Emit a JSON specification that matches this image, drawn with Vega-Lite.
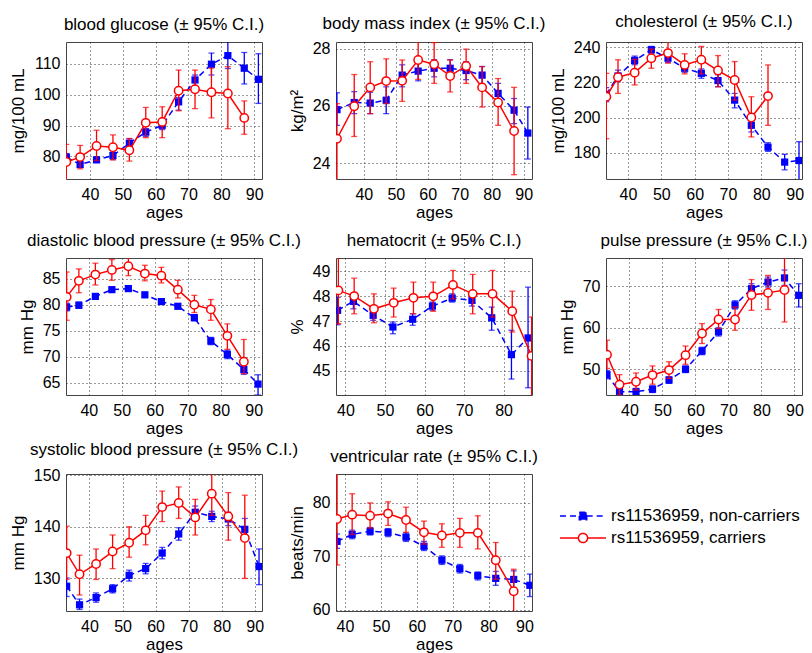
{
"$schema":"https://vega.github.io/schema/vega-lite/v6.json",
"background":"white",
"padding":{"left":8,"top":12,"right":4,"bottom":4},
"config":{
 "font":"Liberation Sans",
 "view":{"stroke":"#444","strokeWidth":1},
 "title":{"fontSize":17,"fontWeight":"normal","font":"Liberation Sans","offset":8,"color":"#000"},
 "axis":{"labelFont":"Liberation Sans","labelFontSize":16,"labelColor":"#000","titleFont":"Liberation Sans","titleFontSize":17,"titleFontWeight":"normal","titleColor":"#000","ticks":false,"tickSize":0,"domain":false,"grid":true,"gridColor":"#333","gridDash":[1,3],"gridWidth":1,"labelFlush":false,"labelOverlap":false,"labelBound":false},
 "axisX":{"labelPadding":7,"titlePadding":2},
 "axisY":{"labelPadding":6,"titlePadding":6},
 "legend":{"labelFont":"Liberation Sans","labelFontSize":17,"labelColor":"#000","padding":0,"labelLimit":0}
},
"datasets":{"d":[
{"p":"glu","g":"n","a":32.8,"m":79.8,"lo":78.7,"hi":80.9},{"p":"glu","g":"n","a":37,"m":77.4,"lo":76.5,"hi":78.2},{"p":"glu","g":"n","a":42,"m":78.9,"lo":78.2,"hi":79.8},{"p":"glu","g":"n","a":47,"m":80.3,"lo":79,"hi":81.4},{"p":"glu","g":"n","a":52,"m":84.3,"lo":83,"hi":85.8},{"p":"glu","g":"n","a":57,"m":87.9,"lo":86.5,"hi":89},{"p":"glu","g":"n","a":62,"m":90.1,"lo":88.7,"hi":91.2},{"p":"glu","g":"n","a":67,"m":97.7,"lo":95,"hi":99.1},{"p":"glu","g":"n","a":72,"m":104.8,"lo":102.8,"hi":106.4},{"p":"glu","g":"n","a":77,"m":109.9,"lo":106.4,"hi":113.5},{"p":"glu","g":"n","a":82,"m":112.7,"lo":108.5,"hi":118},{"p":"glu","g":"n","a":87,"m":108.6,"lo":103.5,"hi":113.7},{"p":"glu","g":"n","a":91.3,"m":105,"lo":97.2,"hi":113.3},
{"p":"glu","g":"c","a":32.8,"m":78.2,"lo":72,"hi":83.9},{"p":"glu","g":"c","a":37,"m":79.8,"lo":76,"hi":83.6},{"p":"glu","g":"c","a":42,"m":83.4,"lo":78.7,"hi":88.5},{"p":"glu","g":"c","a":47,"m":83,"lo":78.9,"hi":87},{"p":"glu","g":"c","a":52,"m":82,"lo":78.5,"hi":85.8},{"p":"glu","g":"c","a":57,"m":90.9,"lo":86.1,"hi":95.9},{"p":"glu","g":"c","a":62,"m":91.2,"lo":86.1,"hi":96.1},{"p":"glu","g":"c","a":67,"m":101.3,"lo":94.8,"hi":108},{"p":"glu","g":"c","a":72,"m":101.8,"lo":95.5,"hi":108},{"p":"glu","g":"c","a":77,"m":100.8,"lo":92.5,"hi":108.6},{"p":"glu","g":"c","a":82,"m":100.4,"lo":89,"hi":109.1},{"p":"glu","g":"c","a":87,"m":92.5,"lo":87.2,"hi":98},
{"p":"bmi","g":"n","a":31.6,"m":25.87,"lo":25.32,"hi":26.46},{"p":"bmi","g":"n","a":37,"m":26.12,"lo":25.73,"hi":26.5},{"p":"bmi","g":"n","a":42,"m":26.1,"lo":25.73,"hi":26.48},{"p":"bmi","g":"n","a":47,"m":26.2,"lo":25.73,"hi":26.67},{"p":"bmi","g":"n","a":52,"m":27.08,"lo":26.67,"hi":27.44},{"p":"bmi","g":"n","a":57,"m":27.22,"lo":26.88,"hi":27.55},{"p":"bmi","g":"n","a":62,"m":27.32,"lo":27.02,"hi":27.62},{"p":"bmi","g":"n","a":67,"m":27.32,"lo":27.02,"hi":27.62},{"p":"bmi","g":"n","a":72,"m":27.24,"lo":26.92,"hi":27.55},{"p":"bmi","g":"n","a":77,"m":27.08,"lo":26.73,"hi":27.38},{"p":"bmi","g":"n","a":82,"m":26.44,"lo":26.02,"hi":26.79},{"p":"bmi","g":"n","a":87,"m":25.85,"lo":25.38,"hi":26.26},{"p":"bmi","g":"n","a":91.3,"m":25.05,"lo":24.14,"hi":25.96},
{"p":"bmi","g":"c","a":31.6,"m":24.85,"lo":23.3,"hi":26.08},{"p":"bmi","g":"c","a":37,"m":25.99,"lo":24.93,"hi":27.1},{"p":"bmi","g":"c","a":42,"m":26.65,"lo":25.73,"hi":27.55},{"p":"bmi","g":"c","a":47,"m":26.87,"lo":26.08,"hi":27.65},{"p":"bmi","g":"c","a":52,"m":26.88,"lo":26.16,"hi":27.61},{"p":"bmi","g":"c","a":57,"m":27.61,"lo":26.93,"hi":28.3},{"p":"bmi","g":"c","a":62,"m":27.46,"lo":26.79,"hi":28.22},{"p":"bmi","g":"c","a":67,"m":27.05,"lo":26.49,"hi":27.61},{"p":"bmi","g":"c","a":72,"m":27.4,"lo":26.79,"hi":27.99},{"p":"bmi","g":"c","a":77,"m":26.65,"lo":25.96,"hi":27.38},{"p":"bmi","g":"c","a":82,"m":26.12,"lo":25.32,"hi":26.96},{"p":"bmi","g":"c","a":87,"m":25.12,"lo":23.59,"hi":26.65},
{"p":"chol","g":"n","a":33.5,"m":213.1,"lo":209,"hi":217},{"p":"chol","g":"n","a":37,"m":223.6,"lo":220.4,"hi":226.9},{"p":"chol","g":"n","a":42,"m":232.4,"lo":230,"hi":234.9},{"p":"chol","g":"n","a":47,"m":238.5,"lo":236.2,"hi":240.4},{"p":"chol","g":"n","a":52,"m":233.7,"lo":231.3,"hi":235.6},{"p":"chol","g":"n","a":57,"m":228,"lo":225.7,"hi":229.9},{"p":"chol","g":"n","a":62,"m":225.1,"lo":222.3,"hi":227.6},{"p":"chol","g":"n","a":67,"m":221,"lo":217.5,"hi":224.3},{"p":"chol","g":"n","a":72,"m":209.9,"lo":205.5,"hi":213.7},{"p":"chol","g":"n","a":77,"m":195.6,"lo":191.8,"hi":199.4},{"p":"chol","g":"n","a":82,"m":183.2,"lo":180.8,"hi":185.7},{"p":"chol","g":"n","a":87,"m":174.7,"lo":170.3,"hi":179.1},{"p":"chol","g":"n","a":91.3,"m":175.6,"lo":164,"hi":186.3},
{"p":"chol","g":"c","a":33.5,"m":211.8,"lo":188,"hi":225.1},{"p":"chol","g":"c","a":37,"m":222.9,"lo":213.7,"hi":232.8},{"p":"chol","g":"c","a":42,"m":225.5,"lo":218.5,"hi":233.1},{"p":"chol","g":"c","a":47,"m":233.7,"lo":228,"hi":238.9},{"p":"chol","g":"c","a":52,"m":236.6,"lo":230.9,"hi":243.5},{"p":"chol","g":"c","a":57,"m":229.9,"lo":224.8,"hi":236.2},{"p":"chol","g":"c","a":62,"m":232.8,"lo":224.8,"hi":240.4},{"p":"chol","g":"c","a":67,"m":226.7,"lo":217.5,"hi":235.2},{"p":"chol","g":"c","a":72,"m":221.3,"lo":209.9,"hi":231.8},{"p":"chol","g":"c","a":77,"m":200,"lo":189,"hi":211.8},{"p":"chol","g":"c","a":82,"m":212.2,"lo":195.6,"hi":229.9},
{"p":"dia","g":"n","a":33.3,"m":79.55,"lo":78.8,"hi":80.3},{"p":"dia","g":"n","a":37,"m":79.9,"lo":79.3,"hi":80.5},{"p":"dia","g":"n","a":42,"m":81.6,"lo":81.1,"hi":82.1},{"p":"dia","g":"n","a":47,"m":82.9,"lo":82.4,"hi":83.4},{"p":"dia","g":"n","a":52,"m":83.1,"lo":82.6,"hi":83.6},{"p":"dia","g":"n","a":57,"m":81.9,"lo":81.4,"hi":82.4},{"p":"dia","g":"n","a":62,"m":80.6,"lo":80.1,"hi":81.1},{"p":"dia","g":"n","a":67,"m":79.7,"lo":79.2,"hi":80.2},{"p":"dia","g":"n","a":72,"m":77.5,"lo":76.9,"hi":78.1},{"p":"dia","g":"n","a":77,"m":73,"lo":72.3,"hi":73.7},{"p":"dia","g":"n","a":82,"m":70.4,"lo":69.6,"hi":71.2},{"p":"dia","g":"n","a":87,"m":67.5,"lo":66.6,"hi":68.4},{"p":"dia","g":"n","a":91.3,"m":64.7,"lo":62.6,"hi":66.5},
{"p":"dia","g":"c","a":33.3,"m":81.5,"lo":77,"hi":86.3},{"p":"dia","g":"c","a":37,"m":84.6,"lo":82.3,"hi":86.9},{"p":"dia","g":"c","a":42,"m":85.8,"lo":83.8,"hi":88},{"p":"dia","g":"c","a":47,"m":86.7,"lo":84.7,"hi":88.7},{"p":"dia","g":"c","a":52,"m":87.4,"lo":85.6,"hi":89.3},{"p":"dia","g":"c","a":57,"m":86,"lo":84.6,"hi":87.6},{"p":"dia","g":"c","a":62,"m":85.6,"lo":84.2,"hi":87.2},{"p":"dia","g":"c","a":67,"m":82.9,"lo":81.3,"hi":84.7},{"p":"dia","g":"c","a":72,"m":80,"lo":78.5,"hi":81.8},{"p":"dia","g":"c","a":77,"m":79.1,"lo":77,"hi":81},{"p":"dia","g":"c","a":82,"m":74,"lo":71.4,"hi":76.3},{"p":"dia","g":"c","a":87,"m":69,"lo":66.7,"hi":73.3},
{"p":"hem","g":"n","a":38,"m":47.43,"lo":46.85,"hi":47.95},{"p":"hem","g":"n","a":42,"m":47.79,"lo":47.49,"hi":47.96},{"p":"hem","g":"n","a":47,"m":47.23,"lo":47.03,"hi":47.43},{"p":"hem","g":"n","a":52,"m":46.76,"lo":46.49,"hi":46.96},{"p":"hem","g":"n","a":57,"m":47.07,"lo":46.83,"hi":47.29},{"p":"hem","g":"n","a":62,"m":47.6,"lo":47.43,"hi":47.76},{"p":"hem","g":"n","a":67,"m":47.92,"lo":47.76,"hi":48.09},{"p":"hem","g":"n","a":72,"m":47.83,"lo":47.6,"hi":48.05},{"p":"hem","g":"n","a":77,"m":47.13,"lo":46.63,"hi":47.56},{"p":"hem","g":"n","a":82,"m":45.65,"lo":44.67,"hi":46.63},{"p":"hem","g":"n","a":86.2,"m":46.32,"lo":44.32,"hi":48.36},
{"p":"hem","g":"c","a":38.2,"m":48.23,"lo":46.89,"hi":49.6},{"p":"hem","g":"c","a":42.2,"m":48,"lo":47.29,"hi":48.72},{"p":"hem","g":"c","a":47.2,"m":47.49,"lo":46.93,"hi":48.09},{"p":"hem","g":"c","a":52.2,"m":47.73,"lo":47.16,"hi":48.32},{"p":"hem","g":"c","a":57.2,"m":47.93,"lo":47.29,"hi":48.56},{"p":"hem","g":"c","a":62.2,"m":47.99,"lo":47.39,"hi":48.56},{"p":"hem","g":"c","a":67.2,"m":48.45,"lo":47.89,"hi":49.03},{"p":"hem","g":"c","a":72.2,"m":48.09,"lo":47.29,"hi":48.87},{"p":"hem","g":"c","a":77.2,"m":48.09,"lo":47.16,"hi":49.03},{"p":"hem","g":"c","a":82.2,"m":47.39,"lo":46.56,"hi":48.2},{"p":"hem","g":"c","a":87.1,"m":45.6,"lo":43.9,"hi":47.16},
{"p":"pul","g":"n","a":33.2,"m":48.7,"lo":47.7,"hi":49.7},{"p":"pul","g":"n","a":37,"m":44.6,"lo":43.5,"hi":45.6},{"p":"pul","g":"n","a":42,"m":44.6,"lo":43.8,"hi":45.4},{"p":"pul","g":"n","a":47,"m":45.2,"lo":44.4,"hi":46},{"p":"pul","g":"n","a":52,"m":47.4,"lo":46.6,"hi":48.2},{"p":"pul","g":"n","a":57,"m":50,"lo":49.2,"hi":50.8},{"p":"pul","g":"n","a":62,"m":54.4,"lo":53.5,"hi":55.3},{"p":"pul","g":"n","a":67,"m":59,"lo":58,"hi":60},{"p":"pul","g":"n","a":72,"m":65.5,"lo":64.5,"hi":66.5},{"p":"pul","g":"n","a":77,"m":69.4,"lo":68.2,"hi":70.6},{"p":"pul","g":"n","a":82,"m":71,"lo":69.8,"hi":72.2},{"p":"pul","g":"n","a":87,"m":72,"lo":70.2,"hi":73.9},{"p":"pul","g":"n","a":91.3,"m":67.8,"lo":65,"hi":70.6},
{"p":"pul","g":"c","a":33.2,"m":53.5,"lo":50.2,"hi":57},{"p":"pul","g":"c","a":37,"m":46.3,"lo":43.8,"hi":48.7},{"p":"pul","g":"c","a":42,"m":47,"lo":45,"hi":49.1},{"p":"pul","g":"c","a":47,"m":48.6,"lo":46.4,"hi":50.8},{"p":"pul","g":"c","a":52,"m":49.8,"lo":47.8,"hi":51.8},{"p":"pul","g":"c","a":57,"m":53.4,"lo":51.2,"hi":55.6},{"p":"pul","g":"c","a":62,"m":58.6,"lo":56.2,"hi":61},{"p":"pul","g":"c","a":67,"m":62,"lo":59.8,"hi":64.4},{"p":"pul","g":"c","a":72,"m":62,"lo":59.4,"hi":65},{"p":"pul","g":"c","a":77,"m":67.9,"lo":64.2,"hi":71.6},{"p":"pul","g":"c","a":82,"m":68.4,"lo":64.4,"hi":72.6},{"p":"pul","g":"c","a":87,"m":69.1,"lo":61.4,"hi":77},
{"p":"sys","g":"n","a":33.1,"m":128.5,"lo":126.5,"hi":130.1},{"p":"sys","g":"n","a":37,"m":124.9,"lo":124,"hi":126},{"p":"sys","g":"n","a":42,"m":126.3,"lo":125.4,"hi":127.2},{"p":"sys","g":"n","a":47,"m":128,"lo":127.2,"hi":128.8},{"p":"sys","g":"n","a":52,"m":130.6,"lo":129.5,"hi":131.6},{"p":"sys","g":"n","a":57,"m":131.9,"lo":130.9,"hi":132.9},{"p":"sys","g":"n","a":62,"m":134.9,"lo":133.8,"hi":136},{"p":"sys","g":"n","a":67,"m":138.6,"lo":137.4,"hi":139.8},{"p":"sys","g":"n","a":72,"m":142.8,"lo":141.6,"hi":144},{"p":"sys","g":"n","a":77,"m":142,"lo":141,"hi":143},{"p":"sys","g":"n","a":82,"m":141.5,"lo":140.2,"hi":142.8},{"p":"sys","g":"n","a":87,"m":139.5,"lo":137.4,"hi":141.6},{"p":"sys","g":"n","a":91.3,"m":132.3,"lo":128.8,"hi":135.7},
{"p":"sys","g":"c","a":33.1,"m":134.9,"lo":129.8,"hi":140.1},{"p":"sys","g":"c","a":37,"m":130.8,"lo":126.8,"hi":134.5},{"p":"sys","g":"c","a":42,"m":132.8,"lo":129.8,"hi":135.7},{"p":"sys","g":"c","a":47,"m":135.2,"lo":131.9,"hi":138.4},{"p":"sys","g":"c","a":52,"m":136.9,"lo":134.1,"hi":140},{"p":"sys","g":"c","a":57,"m":139.3,"lo":136.5,"hi":142.2},{"p":"sys","g":"c","a":62,"m":143.8,"lo":141,"hi":146.9},{"p":"sys","g":"c","a":67,"m":144.6,"lo":141.6,"hi":147.7},{"p":"sys","g":"c","a":72,"m":141.8,"lo":138.4,"hi":145.3},{"p":"sys","g":"c","a":77,"m":146.4,"lo":142.2,"hi":150.5},{"p":"sys","g":"c","a":82,"m":142,"lo":137.4,"hi":146.6},{"p":"sys","g":"c","a":87,"m":137.8,"lo":130,"hi":146.1},
{"p":"ven","g":"n","a":37.8,"m":72.8,"lo":71.5,"hi":74.2},{"p":"ven","g":"n","a":42,"m":74.1,"lo":73.3,"hi":74.9},{"p":"ven","g":"n","a":47,"m":74.7,"lo":74,"hi":75.4},{"p":"ven","g":"n","a":52,"m":74.5,"lo":73.7,"hi":75.2},{"p":"ven","g":"n","a":57,"m":73.6,"lo":72.8,"hi":74.4},{"p":"ven","g":"n","a":62,"m":71.9,"lo":71.1,"hi":72.8},{"p":"ven","g":"n","a":67,"m":69.3,"lo":68.5,"hi":70.1},{"p":"ven","g":"n","a":72,"m":67.7,"lo":66.9,"hi":68.5},{"p":"ven","g":"n","a":77,"m":66.4,"lo":65.6,"hi":67.1},{"p":"ven","g":"n","a":82,"m":65.9,"lo":64.6,"hi":67.2},{"p":"ven","g":"n","a":87,"m":65.7,"lo":64.1,"hi":67.3},{"p":"ven","g":"n","a":91.5,"m":64.6,"lo":62.5,"hi":66.7},
{"p":"ven","g":"c","a":37.8,"m":77,"lo":68.4,"hi":86},{"p":"ven","g":"c","a":42,"m":77.8,"lo":74.1,"hi":81.7},{"p":"ven","g":"c","a":47,"m":77.6,"lo":75.3,"hi":80},{"p":"ven","g":"c","a":52,"m":78,"lo":75.8,"hi":80.2},{"p":"ven","g":"c","a":57,"m":76.8,"lo":74.5,"hi":79.2},{"p":"ven","g":"c","a":62,"m":74.5,"lo":72.3,"hi":76.6},{"p":"ven","g":"c","a":67,"m":73.9,"lo":71.7,"hi":76.1},{"p":"ven","g":"c","a":72,"m":74.4,"lo":71.7,"hi":77.1},{"p":"ven","g":"c","a":77,"m":74.4,"lo":71.4,"hi":77.6},{"p":"ven","g":"c","a":82,"m":69.3,"lo":65.7,"hi":72.6},{"p":"ven","g":"c","a":87,"m":63.5,"lo":59,"hi":67.6}
]},
"data":{"name":"d"},
"columns":3,
"spacing":{"row":79,"column":74},
"bounds":"flush",
"concat":[
{"title":"blood glucose (± 95% C.I.)","width":196,"height":137,
 "transform":[{"filter":"datum.p=='glu'"}],
 "encoding":{"x":{"field":"a","type":"quantitative","title":"ages","scale":{"domain":[32.7,92.4],"nice":false,"zero":false},"axis":{"values":[40,50,60,70,80,90]}}},
 "layer":[
  {"transform":[{"filter":"datum.g=='n'"}],"layer":[
   {"mark":{"type":"rule","color":"#0000ff","strokeWidth":1.3,"clip":true},"encoding":{"y":{"field":"lo","type":"quantitative","title":"mg/100 mL","scale":{"domain":[72.7,117.1],"nice":false,"zero":false},"axis":{"values":[80,90,100,110]}},"y2":{"field":"hi"}}},
   {"mark":{"type":"tick","orient":"horizontal","color":"#0000ff","size":6,"thickness":1.3,"clip":true},"encoding":{"y":{"field":"lo","type":"quantitative","title":"mg/100 mL","scale":{"domain":[72.7,117.1],"nice":false,"zero":false},"axis":{"values":[80,90,100,110]}}}},
   {"mark":{"type":"tick","orient":"horizontal","color":"#0000ff","size":6,"thickness":1.3,"clip":true},"encoding":{"y":{"field":"hi","type":"quantitative","title":"mg/100 mL","scale":{"domain":[72.7,117.1],"nice":false,"zero":false},"axis":{"values":[80,90,100,110]}}}},
   {"mark":{"type":"line","color":"#0000ff","strokeWidth":1.5,"strokeDash":[6,4],"clip":true},"encoding":{"y":{"field":"m","type":"quantitative","title":"mg/100 mL","scale":{"domain":[72.7,117.1],"nice":false,"zero":false},"axis":{"values":[80,90,100,110]}}}},
   {"mark":{"type":"square","color":"#0000ff","filled":true,"size":52,"opacity":1,"clip":true},"encoding":{"y":{"field":"m","type":"quantitative","title":"mg/100 mL","scale":{"domain":[72.7,117.1],"nice":false,"zero":false},"axis":{"values":[80,90,100,110]}}}}
  ]},
  {"transform":[{"filter":"datum.g=='c'"}],"layer":[
   {"mark":{"type":"rule","color":"#ff0000","strokeWidth":1.3,"clip":true},"encoding":{"y":{"field":"lo","type":"quantitative","title":"mg/100 mL","scale":{"domain":[72.7,117.1],"nice":false,"zero":false},"axis":{"values":[80,90,100,110]}},"y2":{"field":"hi"}}},
   {"mark":{"type":"tick","orient":"horizontal","color":"#ff0000","size":6,"thickness":1.3,"clip":true},"encoding":{"y":{"field":"lo","type":"quantitative","title":"mg/100 mL","scale":{"domain":[72.7,117.1],"nice":false,"zero":false},"axis":{"values":[80,90,100,110]}}}},
   {"mark":{"type":"tick","orient":"horizontal","color":"#ff0000","size":6,"thickness":1.3,"clip":true},"encoding":{"y":{"field":"hi","type":"quantitative","title":"mg/100 mL","scale":{"domain":[72.7,117.1],"nice":false,"zero":false},"axis":{"values":[80,90,100,110]}}}},
   {"mark":{"type":"line","color":"#ff0000","strokeWidth":1.5,"clip":true},"encoding":{"y":{"field":"m","type":"quantitative","title":"mg/100 mL","scale":{"domain":[72.7,117.1],"nice":false,"zero":false},"axis":{"values":[80,90,100,110]}}}},
   {"mark":{"type":"point","shape":"circle","filled":true,"fill":"#ffffff","stroke":"#ff0000","strokeWidth":1.5,"size":70,"opacity":1,"clip":true},"encoding":{"y":{"field":"m","type":"quantitative","title":"mg/100 mL","scale":{"domain":[72.7,117.1],"nice":false,"zero":false},"axis":{"values":[80,90,100,110]}}}}
  ]},
  {"transform":[{"filter":"false"}],"mark":{"type":"point","filled":true,"opacity":1,"strokeWidth":1.5},"encoding":{
   "shape":{"field":"s","type":"nominal","scale":{"domain":["rs11536959, non-carriers","rs11536959, carriers"],"range":["M-2.3,0H-0.37M0.37,0H2.3M-0.37,-0.37H0.37V0.37H-0.37Z","M-2.3,0H-0.46M0.46,0H2.3M-0.46,0A0.46,0.46,0,1,1,0.46,0A0.46,0.46,0,1,1,-0.46,0Z"]},"legend":{"title":null,"orient":"none","legendX":506,"legendY":463,"symbolSize":400,"labelOffset":17,"rowPadding":3,"symbolStrokeWidth":1.5,"labelFontSize":17,"labelLimit":0}},
   "fill":{"field":"s","type":"nominal","scale":{"domain":["rs11536959, non-carriers","rs11536959, carriers"],"range":["#0000ff","#ffffff"]}},
   "stroke":{"field":"s","type":"nominal","scale":{"domain":["rs11536959, non-carriers","rs11536959, carriers"],"range":["#0000ff","#ff0000"]}},
   "strokeDash":{"field":"s","type":"nominal","scale":{"domain":["rs11536959, non-carriers","rs11536959, carriers"],"range":[[6,4],[1,0]]}}
  }}
 ]},
{"title":"body mass index (± 95% C.I.)","width":196,"height":137,
 "transform":[{"filter":"datum.p=='bmi'"}],
 "encoding":{"x":{"field":"a","type":"quantitative","title":"ages","scale":{"domain":[31.3,92.6],"nice":false,"zero":false},"axis":{"values":[40,50,60,70,80,90]}}},
 "layer":[
  {"transform":[{"filter":"datum.g=='n'"}],"layer":[
   {"mark":{"type":"rule","color":"#0000ff","strokeWidth":1.3,"clip":true},"encoding":{"y":{"field":"lo","type":"quantitative","title":"kg/m²","scale":{"domain":[23.44,28.24],"nice":false,"zero":false},"axis":{"values":[24,26,28]}},"y2":{"field":"hi"}}},
   {"mark":{"type":"tick","orient":"horizontal","color":"#0000ff","size":6,"thickness":1.3,"clip":true},"encoding":{"y":{"field":"lo","type":"quantitative","title":"kg/m²","scale":{"domain":[23.44,28.24],"nice":false,"zero":false},"axis":{"values":[24,26,28]}}}},
   {"mark":{"type":"tick","orient":"horizontal","color":"#0000ff","size":6,"thickness":1.3,"clip":true},"encoding":{"y":{"field":"hi","type":"quantitative","title":"kg/m²","scale":{"domain":[23.44,28.24],"nice":false,"zero":false},"axis":{"values":[24,26,28]}}}},
   {"mark":{"type":"line","color":"#0000ff","strokeWidth":1.5,"strokeDash":[6,4],"clip":true},"encoding":{"y":{"field":"m","type":"quantitative","title":"kg/m²","scale":{"domain":[23.44,28.24],"nice":false,"zero":false},"axis":{"values":[24,26,28]}}}},
   {"mark":{"type":"square","color":"#0000ff","filled":true,"size":52,"opacity":1,"clip":true},"encoding":{"y":{"field":"m","type":"quantitative","title":"kg/m²","scale":{"domain":[23.44,28.24],"nice":false,"zero":false},"axis":{"values":[24,26,28]}}}}
  ]},
  {"transform":[{"filter":"datum.g=='c'"}],"layer":[
   {"mark":{"type":"rule","color":"#ff0000","strokeWidth":1.3,"clip":true},"encoding":{"y":{"field":"lo","type":"quantitative","title":"kg/m²","scale":{"domain":[23.44,28.24],"nice":false,"zero":false},"axis":{"values":[24,26,28]}},"y2":{"field":"hi"}}},
   {"mark":{"type":"tick","orient":"horizontal","color":"#ff0000","size":6,"thickness":1.3,"clip":true},"encoding":{"y":{"field":"lo","type":"quantitative","title":"kg/m²","scale":{"domain":[23.44,28.24],"nice":false,"zero":false},"axis":{"values":[24,26,28]}}}},
   {"mark":{"type":"tick","orient":"horizontal","color":"#ff0000","size":6,"thickness":1.3,"clip":true},"encoding":{"y":{"field":"hi","type":"quantitative","title":"kg/m²","scale":{"domain":[23.44,28.24],"nice":false,"zero":false},"axis":{"values":[24,26,28]}}}},
   {"mark":{"type":"line","color":"#ff0000","strokeWidth":1.5,"clip":true},"encoding":{"y":{"field":"m","type":"quantitative","title":"kg/m²","scale":{"domain":[23.44,28.24],"nice":false,"zero":false},"axis":{"values":[24,26,28]}}}},
   {"mark":{"type":"point","shape":"circle","filled":true,"fill":"#ffffff","stroke":"#ff0000","strokeWidth":1.5,"size":70,"opacity":1,"clip":true},"encoding":{"y":{"field":"m","type":"quantitative","title":"kg/m²","scale":{"domain":[23.44,28.24],"nice":false,"zero":false},"axis":{"values":[24,26,28]}}}}
  ]}
 ]},
{"title":"cholesterol (± 95% C.I.)","width":196,"height":137,
 "transform":[{"filter":"datum.p=='chol'"}],
 "encoding":{"x":{"field":"a","type":"quantitative","title":"ages","scale":{"domain":[33.4,92.2],"nice":false,"zero":false},"axis":{"values":[40,50,60,70,80,90]}}},
 "layer":[
  {"transform":[{"filter":"datum.g=='n'"}],"layer":[
   {"mark":{"type":"rule","color":"#0000ff","strokeWidth":1.3,"clip":true},"encoding":{"y":{"field":"lo","type":"quantitative","title":"mg/100 mL","scale":{"domain":[165.1,242.9],"nice":false,"zero":false},"axis":{"values":[180,200,220,240]}},"y2":{"field":"hi"}}},
   {"mark":{"type":"tick","orient":"horizontal","color":"#0000ff","size":6,"thickness":1.3,"clip":true},"encoding":{"y":{"field":"lo","type":"quantitative","title":"mg/100 mL","scale":{"domain":[165.1,242.9],"nice":false,"zero":false},"axis":{"values":[180,200,220,240]}}}},
   {"mark":{"type":"tick","orient":"horizontal","color":"#0000ff","size":6,"thickness":1.3,"clip":true},"encoding":{"y":{"field":"hi","type":"quantitative","title":"mg/100 mL","scale":{"domain":[165.1,242.9],"nice":false,"zero":false},"axis":{"values":[180,200,220,240]}}}},
   {"mark":{"type":"line","color":"#0000ff","strokeWidth":1.5,"strokeDash":[6,4],"clip":true},"encoding":{"y":{"field":"m","type":"quantitative","title":"mg/100 mL","scale":{"domain":[165.1,242.9],"nice":false,"zero":false},"axis":{"values":[180,200,220,240]}}}},
   {"mark":{"type":"square","color":"#0000ff","filled":true,"size":52,"opacity":1,"clip":true},"encoding":{"y":{"field":"m","type":"quantitative","title":"mg/100 mL","scale":{"domain":[165.1,242.9],"nice":false,"zero":false},"axis":{"values":[180,200,220,240]}}}}
  ]},
  {"transform":[{"filter":"datum.g=='c'"}],"layer":[
   {"mark":{"type":"rule","color":"#ff0000","strokeWidth":1.3,"clip":true},"encoding":{"y":{"field":"lo","type":"quantitative","title":"mg/100 mL","scale":{"domain":[165.1,242.9],"nice":false,"zero":false},"axis":{"values":[180,200,220,240]}},"y2":{"field":"hi"}}},
   {"mark":{"type":"tick","orient":"horizontal","color":"#ff0000","size":6,"thickness":1.3,"clip":true},"encoding":{"y":{"field":"lo","type":"quantitative","title":"mg/100 mL","scale":{"domain":[165.1,242.9],"nice":false,"zero":false},"axis":{"values":[180,200,220,240]}}}},
   {"mark":{"type":"tick","orient":"horizontal","color":"#ff0000","size":6,"thickness":1.3,"clip":true},"encoding":{"y":{"field":"hi","type":"quantitative","title":"mg/100 mL","scale":{"domain":[165.1,242.9],"nice":false,"zero":false},"axis":{"values":[180,200,220,240]}}}},
   {"mark":{"type":"line","color":"#ff0000","strokeWidth":1.5,"clip":true},"encoding":{"y":{"field":"m","type":"quantitative","title":"mg/100 mL","scale":{"domain":[165.1,242.9],"nice":false,"zero":false},"axis":{"values":[180,200,220,240]}}}},
   {"mark":{"type":"point","shape":"circle","filled":true,"fill":"#ffffff","stroke":"#ff0000","strokeWidth":1.5,"size":70,"opacity":1,"clip":true},"encoding":{"y":{"field":"m","type":"quantitative","title":"mg/100 mL","scale":{"domain":[165.1,242.9],"nice":false,"zero":false},"axis":{"values":[180,200,220,240]}}}}
  ]}
 ]},
{"title":"diastolic blood pressure (± 95% C.I.)","width":196,"height":137,
 "transform":[{"filter":"datum.p=='dia'"}],
 "encoding":{"x":{"field":"a","type":"quantitative","title":"ages","scale":{"domain":[33.1,92.5],"nice":false,"zero":false},"axis":{"values":[40,50,60,70,80,90]}}},
 "layer":[
  {"transform":[{"filter":"datum.g=='n'"}],"layer":[
   {"mark":{"type":"rule","color":"#0000ff","strokeWidth":1.3,"clip":true},"encoding":{"y":{"field":"lo","type":"quantitative","title":"mm Hg","scale":{"domain":[62.6,89.0],"nice":false,"zero":false},"axis":{"values":[65,70,75,80,85]}},"y2":{"field":"hi"}}},
   {"mark":{"type":"tick","orient":"horizontal","color":"#0000ff","size":6,"thickness":1.3,"clip":true},"encoding":{"y":{"field":"lo","type":"quantitative","title":"mm Hg","scale":{"domain":[62.6,89.0],"nice":false,"zero":false},"axis":{"values":[65,70,75,80,85]}}}},
   {"mark":{"type":"tick","orient":"horizontal","color":"#0000ff","size":6,"thickness":1.3,"clip":true},"encoding":{"y":{"field":"hi","type":"quantitative","title":"mm Hg","scale":{"domain":[62.6,89.0],"nice":false,"zero":false},"axis":{"values":[65,70,75,80,85]}}}},
   {"mark":{"type":"line","color":"#0000ff","strokeWidth":1.5,"strokeDash":[6,4],"clip":true},"encoding":{"y":{"field":"m","type":"quantitative","title":"mm Hg","scale":{"domain":[62.6,89.0],"nice":false,"zero":false},"axis":{"values":[65,70,75,80,85]}}}},
   {"mark":{"type":"square","color":"#0000ff","filled":true,"size":52,"opacity":1,"clip":true},"encoding":{"y":{"field":"m","type":"quantitative","title":"mm Hg","scale":{"domain":[62.6,89.0],"nice":false,"zero":false},"axis":{"values":[65,70,75,80,85]}}}}
  ]},
  {"transform":[{"filter":"datum.g=='c'"}],"layer":[
   {"mark":{"type":"rule","color":"#ff0000","strokeWidth":1.3,"clip":true},"encoding":{"y":{"field":"lo","type":"quantitative","title":"mm Hg","scale":{"domain":[62.6,89.0],"nice":false,"zero":false},"axis":{"values":[65,70,75,80,85]}},"y2":{"field":"hi"}}},
   {"mark":{"type":"tick","orient":"horizontal","color":"#ff0000","size":6,"thickness":1.3,"clip":true},"encoding":{"y":{"field":"lo","type":"quantitative","title":"mm Hg","scale":{"domain":[62.6,89.0],"nice":false,"zero":false},"axis":{"values":[65,70,75,80,85]}}}},
   {"mark":{"type":"tick","orient":"horizontal","color":"#ff0000","size":6,"thickness":1.3,"clip":true},"encoding":{"y":{"field":"hi","type":"quantitative","title":"mm Hg","scale":{"domain":[62.6,89.0],"nice":false,"zero":false},"axis":{"values":[65,70,75,80,85]}}}},
   {"mark":{"type":"line","color":"#ff0000","strokeWidth":1.5,"clip":true},"encoding":{"y":{"field":"m","type":"quantitative","title":"mm Hg","scale":{"domain":[62.6,89.0],"nice":false,"zero":false},"axis":{"values":[65,70,75,80,85]}}}},
   {"mark":{"type":"point","shape":"circle","filled":true,"fill":"#ffffff","stroke":"#ff0000","strokeWidth":1.5,"size":70,"opacity":1,"clip":true},"encoding":{"y":{"field":"m","type":"quantitative","title":"mm Hg","scale":{"domain":[62.6,89.0],"nice":false,"zero":false},"axis":{"values":[65,70,75,80,85]}}}}
  ]}
 ]},
{"title":"hematocrit (± 95% C.I.)","width":196,"height":137,
 "transform":[{"filter":"datum.p=='hem'"}],
 "encoding":{"x":{"field":"a","type":"quantitative","title":"ages","scale":{"domain":[37.6,87.2],"nice":false,"zero":false},"axis":{"values":[40,50,60,70,80]}}},
 "layer":[
  {"transform":[{"filter":"datum.g=='n'"}],"layer":[
   {"mark":{"type":"rule","color":"#0000ff","strokeWidth":1.3,"clip":true},"encoding":{"y":{"field":"lo","type":"quantitative","title":"%","scale":{"domain":[44.03,49.53],"nice":false,"zero":false},"axis":{"values":[45,46,47,48,49]}},"y2":{"field":"hi"}}},
   {"mark":{"type":"tick","orient":"horizontal","color":"#0000ff","size":6,"thickness":1.3,"clip":true},"encoding":{"y":{"field":"lo","type":"quantitative","title":"%","scale":{"domain":[44.03,49.53],"nice":false,"zero":false},"axis":{"values":[45,46,47,48,49]}}}},
   {"mark":{"type":"tick","orient":"horizontal","color":"#0000ff","size":6,"thickness":1.3,"clip":true},"encoding":{"y":{"field":"hi","type":"quantitative","title":"%","scale":{"domain":[44.03,49.53],"nice":false,"zero":false},"axis":{"values":[45,46,47,48,49]}}}},
   {"mark":{"type":"line","color":"#0000ff","strokeWidth":1.5,"strokeDash":[6,4],"clip":true},"encoding":{"y":{"field":"m","type":"quantitative","title":"%","scale":{"domain":[44.03,49.53],"nice":false,"zero":false},"axis":{"values":[45,46,47,48,49]}}}},
   {"mark":{"type":"square","color":"#0000ff","filled":true,"size":52,"opacity":1,"clip":true},"encoding":{"y":{"field":"m","type":"quantitative","title":"%","scale":{"domain":[44.03,49.53],"nice":false,"zero":false},"axis":{"values":[45,46,47,48,49]}}}}
  ]},
  {"transform":[{"filter":"datum.g=='c'"}],"layer":[
   {"mark":{"type":"rule","color":"#ff0000","strokeWidth":1.3,"clip":true},"encoding":{"y":{"field":"lo","type":"quantitative","title":"%","scale":{"domain":[44.03,49.53],"nice":false,"zero":false},"axis":{"values":[45,46,47,48,49]}},"y2":{"field":"hi"}}},
   {"mark":{"type":"tick","orient":"horizontal","color":"#ff0000","size":6,"thickness":1.3,"clip":true},"encoding":{"y":{"field":"lo","type":"quantitative","title":"%","scale":{"domain":[44.03,49.53],"nice":false,"zero":false},"axis":{"values":[45,46,47,48,49]}}}},
   {"mark":{"type":"tick","orient":"horizontal","color":"#ff0000","size":6,"thickness":1.3,"clip":true},"encoding":{"y":{"field":"hi","type":"quantitative","title":"%","scale":{"domain":[44.03,49.53],"nice":false,"zero":false},"axis":{"values":[45,46,47,48,49]}}}},
   {"mark":{"type":"line","color":"#ff0000","strokeWidth":1.5,"clip":true},"encoding":{"y":{"field":"m","type":"quantitative","title":"%","scale":{"domain":[44.03,49.53],"nice":false,"zero":false},"axis":{"values":[45,46,47,48,49]}}}},
   {"mark":{"type":"point","shape":"circle","filled":true,"fill":"#ffffff","stroke":"#ff0000","strokeWidth":1.5,"size":70,"opacity":1,"clip":true},"encoding":{"y":{"field":"m","type":"quantitative","title":"%","scale":{"domain":[44.03,49.53],"nice":false,"zero":false},"axis":{"values":[45,46,47,48,49]}}}}
  ]}
 ]},
{"title":"pulse pressure (± 95% C.I.)","width":196,"height":137,
 "transform":[{"filter":"datum.p=='pul'"}],
 "encoding":{"x":{"field":"a","type":"quantitative","title":"ages","scale":{"domain":[32.9,92.3],"nice":false,"zero":false},"axis":{"values":[40,50,60,70,80,90]}}},
 "layer":[
  {"transform":[{"filter":"datum.g=='n'"}],"layer":[
   {"mark":{"type":"rule","color":"#0000ff","strokeWidth":1.3,"clip":true},"encoding":{"y":{"field":"lo","type":"quantitative","title":"mm Hg","scale":{"domain":[43.8,76.8],"nice":false,"zero":false},"axis":{"values":[50,60,70]}},"y2":{"field":"hi"}}},
   {"mark":{"type":"tick","orient":"horizontal","color":"#0000ff","size":6,"thickness":1.3,"clip":true},"encoding":{"y":{"field":"lo","type":"quantitative","title":"mm Hg","scale":{"domain":[43.8,76.8],"nice":false,"zero":false},"axis":{"values":[50,60,70]}}}},
   {"mark":{"type":"tick","orient":"horizontal","color":"#0000ff","size":6,"thickness":1.3,"clip":true},"encoding":{"y":{"field":"hi","type":"quantitative","title":"mm Hg","scale":{"domain":[43.8,76.8],"nice":false,"zero":false},"axis":{"values":[50,60,70]}}}},
   {"mark":{"type":"line","color":"#0000ff","strokeWidth":1.5,"strokeDash":[6,4],"clip":true},"encoding":{"y":{"field":"m","type":"quantitative","title":"mm Hg","scale":{"domain":[43.8,76.8],"nice":false,"zero":false},"axis":{"values":[50,60,70]}}}},
   {"mark":{"type":"square","color":"#0000ff","filled":true,"size":52,"opacity":1,"clip":true},"encoding":{"y":{"field":"m","type":"quantitative","title":"mm Hg","scale":{"domain":[43.8,76.8],"nice":false,"zero":false},"axis":{"values":[50,60,70]}}}}
  ]},
  {"transform":[{"filter":"datum.g=='c'"}],"layer":[
   {"mark":{"type":"rule","color":"#ff0000","strokeWidth":1.3,"clip":true},"encoding":{"y":{"field":"lo","type":"quantitative","title":"mm Hg","scale":{"domain":[43.8,76.8],"nice":false,"zero":false},"axis":{"values":[50,60,70]}},"y2":{"field":"hi"}}},
   {"mark":{"type":"tick","orient":"horizontal","color":"#ff0000","size":6,"thickness":1.3,"clip":true},"encoding":{"y":{"field":"lo","type":"quantitative","title":"mm Hg","scale":{"domain":[43.8,76.8],"nice":false,"zero":false},"axis":{"values":[50,60,70]}}}},
   {"mark":{"type":"tick","orient":"horizontal","color":"#ff0000","size":6,"thickness":1.3,"clip":true},"encoding":{"y":{"field":"hi","type":"quantitative","title":"mm Hg","scale":{"domain":[43.8,76.8],"nice":false,"zero":false},"axis":{"values":[50,60,70]}}}},
   {"mark":{"type":"line","color":"#ff0000","strokeWidth":1.5,"clip":true},"encoding":{"y":{"field":"m","type":"quantitative","title":"mm Hg","scale":{"domain":[43.8,76.8],"nice":false,"zero":false},"axis":{"values":[50,60,70]}}}},
   {"mark":{"type":"point","shape":"circle","filled":true,"fill":"#ffffff","stroke":"#ff0000","strokeWidth":1.5,"size":70,"opacity":1,"clip":true},"encoding":{"y":{"field":"m","type":"quantitative","title":"mm Hg","scale":{"domain":[43.8,76.8],"nice":false,"zero":false},"axis":{"values":[50,60,70]}}}}
  ]}
 ]},
{"title":"systolic blood pressure (± 95% C.I.)","width":196,"height":137,
 "transform":[{"filter":"datum.p=='sys'"}],
 "encoding":{"x":{"field":"a","type":"quantitative","title":"ages","scale":{"domain":[32.9,92.2],"nice":false,"zero":false},"axis":{"values":[40,50,60,70,80,90]}}},
 "layer":[
  {"transform":[{"filter":"datum.g=='n'"}],"layer":[
   {"mark":{"type":"rule","color":"#0000ff","strokeWidth":1.3,"clip":true},"encoding":{"y":{"field":"lo","type":"quantitative","title":"mm Hg","scale":{"domain":[123.7,150.2],"nice":false,"zero":false},"axis":{"values":[130,140,150]}},"y2":{"field":"hi"}}},
   {"mark":{"type":"tick","orient":"horizontal","color":"#0000ff","size":6,"thickness":1.3,"clip":true},"encoding":{"y":{"field":"lo","type":"quantitative","title":"mm Hg","scale":{"domain":[123.7,150.2],"nice":false,"zero":false},"axis":{"values":[130,140,150]}}}},
   {"mark":{"type":"tick","orient":"horizontal","color":"#0000ff","size":6,"thickness":1.3,"clip":true},"encoding":{"y":{"field":"hi","type":"quantitative","title":"mm Hg","scale":{"domain":[123.7,150.2],"nice":false,"zero":false},"axis":{"values":[130,140,150]}}}},
   {"mark":{"type":"line","color":"#0000ff","strokeWidth":1.5,"strokeDash":[6,4],"clip":true},"encoding":{"y":{"field":"m","type":"quantitative","title":"mm Hg","scale":{"domain":[123.7,150.2],"nice":false,"zero":false},"axis":{"values":[130,140,150]}}}},
   {"mark":{"type":"square","color":"#0000ff","filled":true,"size":52,"opacity":1,"clip":true},"encoding":{"y":{"field":"m","type":"quantitative","title":"mm Hg","scale":{"domain":[123.7,150.2],"nice":false,"zero":false},"axis":{"values":[130,140,150]}}}}
  ]},
  {"transform":[{"filter":"datum.g=='c'"}],"layer":[
   {"mark":{"type":"rule","color":"#ff0000","strokeWidth":1.3,"clip":true},"encoding":{"y":{"field":"lo","type":"quantitative","title":"mm Hg","scale":{"domain":[123.7,150.2],"nice":false,"zero":false},"axis":{"values":[130,140,150]}},"y2":{"field":"hi"}}},
   {"mark":{"type":"tick","orient":"horizontal","color":"#ff0000","size":6,"thickness":1.3,"clip":true},"encoding":{"y":{"field":"lo","type":"quantitative","title":"mm Hg","scale":{"domain":[123.7,150.2],"nice":false,"zero":false},"axis":{"values":[130,140,150]}}}},
   {"mark":{"type":"tick","orient":"horizontal","color":"#ff0000","size":6,"thickness":1.3,"clip":true},"encoding":{"y":{"field":"hi","type":"quantitative","title":"mm Hg","scale":{"domain":[123.7,150.2],"nice":false,"zero":false},"axis":{"values":[130,140,150]}}}},
   {"mark":{"type":"line","color":"#ff0000","strokeWidth":1.5,"clip":true},"encoding":{"y":{"field":"m","type":"quantitative","title":"mm Hg","scale":{"domain":[123.7,150.2],"nice":false,"zero":false},"axis":{"values":[130,140,150]}}}},
   {"mark":{"type":"point","shape":"circle","filled":true,"fill":"#ffffff","stroke":"#ff0000","strokeWidth":1.5,"size":70,"opacity":1,"clip":true},"encoding":{"y":{"field":"m","type":"quantitative","title":"mm Hg","scale":{"domain":[123.7,150.2],"nice":false,"zero":false},"axis":{"values":[130,140,150]}}}}
  ]}
 ]},
{"title":"ventricular rate (± 95% C.I.)","width":196,"height":137,
 "transform":[{"filter":"datum.p=='ven'"}],
 "encoding":{"x":{"field":"a","type":"quantitative","title":"ages","scale":{"domain":[37.5,92.1],"nice":false,"zero":false},"axis":{"values":[40,50,60,70,80,90]}}},
 "layer":[
  {"transform":[{"filter":"datum.g=='n'"}],"layer":[
   {"mark":{"type":"rule","color":"#0000ff","strokeWidth":1.3,"clip":true},"encoding":{"y":{"field":"lo","type":"quantitative","title":"beats/min","scale":{"domain":[59.8,85.4],"nice":false,"zero":false},"axis":{"values":[60,70,80]}},"y2":{"field":"hi"}}},
   {"mark":{"type":"tick","orient":"horizontal","color":"#0000ff","size":6,"thickness":1.3,"clip":true},"encoding":{"y":{"field":"lo","type":"quantitative","title":"beats/min","scale":{"domain":[59.8,85.4],"nice":false,"zero":false},"axis":{"values":[60,70,80]}}}},
   {"mark":{"type":"tick","orient":"horizontal","color":"#0000ff","size":6,"thickness":1.3,"clip":true},"encoding":{"y":{"field":"hi","type":"quantitative","title":"beats/min","scale":{"domain":[59.8,85.4],"nice":false,"zero":false},"axis":{"values":[60,70,80]}}}},
   {"mark":{"type":"line","color":"#0000ff","strokeWidth":1.5,"strokeDash":[6,4],"clip":true},"encoding":{"y":{"field":"m","type":"quantitative","title":"beats/min","scale":{"domain":[59.8,85.4],"nice":false,"zero":false},"axis":{"values":[60,70,80]}}}},
   {"mark":{"type":"square","color":"#0000ff","filled":true,"size":52,"opacity":1,"clip":true},"encoding":{"y":{"field":"m","type":"quantitative","title":"beats/min","scale":{"domain":[59.8,85.4],"nice":false,"zero":false},"axis":{"values":[60,70,80]}}}}
  ]},
  {"transform":[{"filter":"datum.g=='c'"}],"layer":[
   {"mark":{"type":"rule","color":"#ff0000","strokeWidth":1.3,"clip":true},"encoding":{"y":{"field":"lo","type":"quantitative","title":"beats/min","scale":{"domain":[59.8,85.4],"nice":false,"zero":false},"axis":{"values":[60,70,80]}},"y2":{"field":"hi"}}},
   {"mark":{"type":"tick","orient":"horizontal","color":"#ff0000","size":6,"thickness":1.3,"clip":true},"encoding":{"y":{"field":"lo","type":"quantitative","title":"beats/min","scale":{"domain":[59.8,85.4],"nice":false,"zero":false},"axis":{"values":[60,70,80]}}}},
   {"mark":{"type":"tick","orient":"horizontal","color":"#ff0000","size":6,"thickness":1.3,"clip":true},"encoding":{"y":{"field":"hi","type":"quantitative","title":"beats/min","scale":{"domain":[59.8,85.4],"nice":false,"zero":false},"axis":{"values":[60,70,80]}}}},
   {"mark":{"type":"line","color":"#ff0000","strokeWidth":1.5,"clip":true},"encoding":{"y":{"field":"m","type":"quantitative","title":"beats/min","scale":{"domain":[59.8,85.4],"nice":false,"zero":false},"axis":{"values":[60,70,80]}}}},
   {"mark":{"type":"point","shape":"circle","filled":true,"fill":"#ffffff","stroke":"#ff0000","strokeWidth":1.5,"size":70,"opacity":1,"clip":true},"encoding":{"y":{"field":"m","type":"quantitative","title":"beats/min","scale":{"domain":[59.8,85.4],"nice":false,"zero":false},"axis":{"values":[60,70,80]}}}}
  ]}
 ]}
]
}
